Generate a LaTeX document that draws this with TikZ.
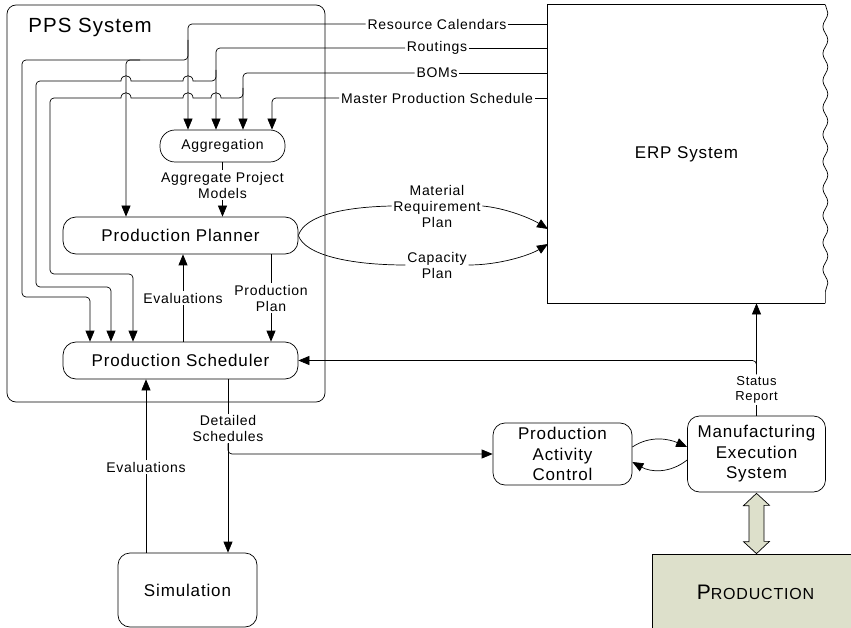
\documentclass[tikz,border=0pt]{standalone}
\usepackage{fontspec}
\setmainfont{Liberation Sans}[LetterSpace=5]
\usetikzlibrary{positioning,arrows.meta,decorations.pathmorphing}
\definecolor{prodfill}{HTML}{DDE0CB}
\newcommand\linehop[2]{-- ({#1+5},#2) .. controls ({#1+5},{#2-7}) and ({#1-5},{#2-7}) .. ({#1-5},#2)}

\begin{document}
\begin{tikzpicture}[x=1pt,y=-1pt,line width=0.7pt,
  proc/.style={
    draw,
    rounded corners=13pt,
    minimum width=235pt,
    minimum height=37pt,
    font=\fontsize{17}{20.5}\selectfont
  },
  box/.style={
    draw,
    rounded corners=12pt,
    align=center,
    font=\fontsize{17}{20.5}\selectfont
  },
  lbl/.style={inner sep=1.5pt, align=center, font=\fontsize{14}{16}\selectfont},
  flow/.style={-{Triangle[length=11pt,width=9pt]}, rounded corners=4pt}
]
\useasboundingbox (0,0) rectangle (851,628);
% Frames of the two systems.
\node[draw, rounded corners=9pt, minimum width=318pt, minimum height=397pt] (pps) at (166,203.5) {};
\node[font=\fontsize{20.5}{23}\selectfont] (ppstitle) at (90,27) {PPS System};
\node[minimum width=277pt, minimum height=298pt, font=\fontsize{17}{20}\selectfont] (erp) at (686.5,154) {ERP System};
\draw (erp.north east) -- (erp.north west) -- (erp.south west) -- (erp.south east);
\draw[decorate, decoration={snake, segment length=27pt, amplitude=2.5pt}] (erp.north east) -- (erp.south east);

\node[box, rounded corners=15pt, minimum width=125pt, minimum height=32pt, font=\fontsize{14}{16}\selectfont] (agg) at (222.5,146) {Aggregation};
\node[proc] (plan) at (180.5,235.5) {Production Planner};
\node[proc] (sched) at (180.5,360.5) {Production Scheduler};
\node[box, minimum width=139pt, minimum height=62pt] (pac) at (562.5,454) {Production\\Activity\\Control};
\node[box, minimum width=138pt, minimum height=76pt] (mes) at (756.5,454) {Manufacturing\\Execution\\System};
\node[box, minimum width=139pt, minimum height=74pt] (sim) at (187.5,590) {Simulation};
\node[draw, fill=prodfill, minimum width=207pt, minimum height=76pt] (prod) at (755.5,592)
  {\fontsize{21}{24}\selectfont P\fontsize{16}{24}\selectfont RODUCTION};

% Inputs from the ERP system.
\node[lbl] (rc) at (437,24) {Resource Calendars};
\node[lbl] (rt) at (437,48) {Routings};
\node[lbl] (bom) at (437,73) {BOMs};
\node[lbl] (mps) at (437,98) {Master Production Schedule};
\draw (erp.west |- rc) -- (rc);
\draw (erp.west |- rt) -- (rt);
\draw (erp.west |- bom) -- (bom);
\draw (erp.west |- mps) -- (mps);
\draw[flow] (rc) -| ([xshift=-34.5pt]agg.north);
\draw[flow] (rt) -| ([xshift=-6.5pt]agg.north);
\draw[flow] (bom) -| ([xshift=20.5pt]agg.north);
\draw[flow] (mps) -| ([xshift=49.5pt]agg.north);

\draw[flow] (188,40) -- (188,60) -- (22,60) -- (22,297) -| ([xshift=-90.5pt]sched.north);
\draw[flow] (140,60) -| ([xshift=-54.5pt]plan.north);

\draw[rounded corners=4pt] (216,70) -- (216,81) -- (195,81);
\draw (195,81) \linehop{188}{81} \linehop{126}{81} -- (120,81);
\draw[flow] (120,81) -- (36,81) -- (36,287) -| ([xshift=-69.5pt]sched.north);

\draw[rounded corners=4pt] (243,88) -- (243,98) -- (223,98);
\draw (223,98) \linehop{216}{98} \linehop{188}{98} \linehop{126}{98} -- (120,98);
\draw[flow] (120,98) -- (50,98) -- (50,274) -| ([xshift=-47.5pt]sched.north);

% Inside the PPS system.
\node[lbl] (apm) at (222.5,185) {Aggregate Project\\Models};
\draw (agg) -- (apm);
\draw[flow] (apm) -- (apm |- plan.north);
\node[lbl] (eval1) at (183,298) {Evaluations};
\draw (eval1 |- sched.north) -- (eval1);
\draw[flow] (eval1) -- (eval1 |- plan.south);
\node[lbl] (pplan) at (271,298) {Production\\Plan};
\draw (pplan |- plan.south) -- (pplan);
\draw[flow] (pplan) -- (pplan |- sched.north);

% Plans sent to the ERP system.
\coordinate (erpmrp) at (548,229);
\coordinate (erpcap) at (548,244);
\node[lbl] (mrp) at (437,206) {Material\\Requirement\\Plan};
\node[lbl] (cap) at (437,265) {Capacity\\Plan};
\draw (plan.east) .. controls (305,215) and (345,207) .. (mrp.west);
\draw[flow] (mrp.east) .. controls (505,208) and (530,218) .. (erpmrp);
\draw (plan.east) .. controls (305,255) and (350,265) .. (cap.west);
\draw[flow] (cap.east) .. controls (500,265) and (530,255) .. (erpcap);

% Shop floor.
\node[lbl, font=\fontsize{13}{15}\selectfont] (status) at (756.5,389.5) {Status\\Report};
\draw (mes) -- (status);
\draw[flow] (status) -- (status |- erp.south);
\draw[flow] (status.north) |- (sched.east);

\node[lbl] (dsched) at (228,428.5) {Detailed\\Schedules};
\draw (dsched |- sched.south) -- (dsched);
\draw[flow] (dsched.south) -- (dsched.south |- sim.north);
\draw[flow] (dsched.south) |- (pac.west);

\node[lbl] (eval2) at (146,467) {Evaluations};
\draw (eval2 |- sim.north) -- (eval2);
\draw[flow] (eval2) -- (eval2 |- sched.south);

\draw[flow] ([yshift=7pt]pac.east) .. controls +(18,-12) and +(-18,-8) .. ([yshift=7pt]mes.west);
\draw[flow] ([yshift=-6pt]mes.west) .. controls +(-18,14) and +(18,10) .. ([yshift=-8pt]pac.east);

\draw[fill=prodfill] ([yshift=-1pt]mes.south) -- ++(13,12) -- ++(-5.5,0) -- ++(0,36) -- ++(5.5,0)
  -- (prod.north -| mes.south) -- ++(-13,-12) -- ++(5.5,0) -- ++(0,-36) -- ++(-5.5,0) -- cycle;
\end{tikzpicture}
\end{document}
